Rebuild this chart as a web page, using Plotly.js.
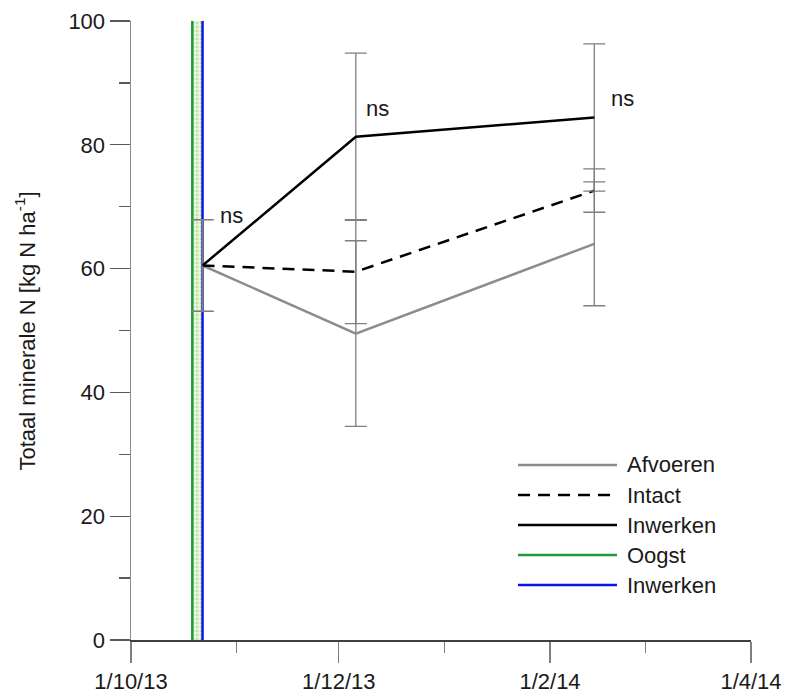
<!DOCTYPE html>
<html>
<head>
<meta charset="utf-8">
<script src="https://cdn.plot.ly/plotly-3.0.1.min.js"></script>
<style>
  html, body { margin: 0; padding: 0; background: #ffffff; }
  #chart { width: 785px; height: 697px; }
</style>
</head>
<body>
<div id="chart"></div>
<script>
// Sampling dates and mean total mineral N (kg N/ha) per treatment
const sampleDates = ['2013-10-22', '2013-12-06', '2014-02-14'];

const afvoeren    = [60.5, 49.5, 64.0];
const afvoerenErr = [7.4, 15.0, 10.0];

const intact      = [60.5, 59.5, 72.6];
const intactErr   = [7.4, 8.4, 3.5];

const inwerken    = [60.5, 81.3, 84.4];
const inwerkenErr = [7.4, 13.5, 11.9];

// Field events (harvest, incorporation)
const oogstDate    = '2013-10-19';
const inwerkenDate = '2013-10-22';
const eventSpan    = [0, 100];

// Significance labels per sampling date and the level they sit at
const sigLabels = ['ns', 'ns', 'ns'];
const sigLevels = [68.5, 85.8, 87.4];

const legendNames = ['Afvoeren', 'Intact', 'Inwerken', 'Oogst', 'Inwerken'];

const FONT = 'Liberation Sans, Arial, sans-serif';
const FS = 22;
const TXT = '#1a1a1a';
const ERR = { type: 'data', visible: true, color: '#7f7f7f', thickness: 1.3, width: 11 };

const traces = [
  // hatched band between harvest and incorporation
  {
    x: [oogstDate, inwerkenDate, inwerkenDate, oogstDate, oogstDate],
    y: [eventSpan[0], eventSpan[0], eventSpan[1], eventSpan[1], eventSpan[0]],
    mode: 'lines', fill: 'toself', line: { width: 0 },
    fillcolor: 'rgba(226,243,204,1)',
    fillpattern: { shape: '.', bgcolor: 'rgba(236,248,222,1)', fgcolor: '#c2e3a0', size: 4, solidity: 0.4 },
    hoverinfo: 'skip', showlegend: false
  },
  {
    x: [oogstDate, oogstDate], y: eventSpan, mode: 'lines',
    line: { color: '#1d9a3c', width: 2.5 }, name: legendNames[3], showlegend: false
  },
  {
    x: [inwerkenDate, inwerkenDate], y: eventSpan, mode: 'lines',
    line: { color: '#0a14f0', width: 2.5 }, name: legendNames[4], showlegend: false
  },
  {
    x: sampleDates, y: afvoeren, mode: 'lines', name: legendNames[0],
    line: { color: '#8c8c8c', width: 2.5 },
    error_y: Object.assign({ array: afvoerenErr }, ERR), showlegend: false
  },
  {
    x: sampleDates, y: intact, mode: 'lines', name: legendNames[1],
    line: { color: '#000000', width: 2.5, dash: '12px,8px' },
    error_y: Object.assign({ array: intactErr }, ERR), showlegend: false
  },
  {
    x: sampleDates, y: inwerken, mode: 'lines', name: legendNames[2],
    line: { color: '#000000', width: 2.5 },
    error_y: Object.assign({ array: inwerkenErr }, ERR), showlegend: false
  }
];

// significance annotations, just right of each error bar
const sigShift = [15, 8, 15];
const annotations = sigLabels.map((t, i) => ({
  x: sampleDates[i], y: sigLevels[i], xref: 'x', yref: 'y',
  text: t, showarrow: false, xanchor: 'left', yanchor: 'middle', xshift: sigShift[i],
  font: { family: FONT, size: FS, color: TXT }
}));

// y-axis title
annotations.push({
  x: -0.171, y: 0.5, xref: 'paper', yref: 'paper', textangle: -90,
  text: 'Totaal minerale N [kg N ha<sup>-1</sup>]', showarrow: false,
  xanchor: 'center', yanchor: 'middle',
  font: { family: FONT, size: FS, color: TXT }
});

// legend drawn as line samples plus labels in the lower right
const legendStyles = [
  { color: '#8c8c8c', dash: 'solid' },
  { color: '#000000', dash: '12px,8px' },
  { color: '#000000', dash: 'solid' },
  { color: '#1d9a3c', dash: 'solid' },
  { color: '#0a14f0', dash: 'solid' }
];
const shapes = [];
const plotL = 131, plotR = 751, plotT = 21, plotB = 640;
const px = v => (v - plotL) / (plotR - plotL);
const py = v => (plotB - v) / (plotB - plotT);
legendNames.forEach((name, i) => {
  const rowY = 465 + i * 30;
  shapes.push({
    type: 'line', xref: 'paper', yref: 'paper',
    x0: px(518), x1: px(617), y0: py(rowY), y1: py(rowY),
    line: { color: legendStyles[i].color, width: 2.5, dash: legendStyles[i].dash }
  });
  annotations.push({
    x: px(625), y: py(rowY), xref: 'paper', yref: 'paper', text: name,
    showarrow: false, xanchor: 'left', yanchor: 'middle',
    font: { family: FONT, size: FS, color: TXT }
  });
});

const layout = {
  width: 785, height: 697,
  margin: { l: plotL, r: 785 - plotR, t: plotT, b: 697 - plotB },
  paper_bgcolor: '#ffffff', plot_bgcolor: '#ffffff',
  font: { family: FONT, size: FS, color: TXT },
  showlegend: false,
  xaxis: {
    type: 'date', range: ['2013-10-01', '2014-04-01'],
    tick0: '2013-10-01', dtick: 'M2', tickformat: '%-d/%-m/%y',
    ticks: 'outside', ticklen: 21, tickwidth: 1.3, tickcolor: '#7f7f7f',
    showline: true, linecolor: '#404040', linewidth: 1.5,
    showgrid: false, zeroline: false,
    tickfont: { family: FONT, size: FS, color: TXT },
    minor: { dtick: 'M1', ticks: 'outside', ticklen: 11, tickwidth: 1.3, tickcolor: '#7f7f7f', showgrid: false }
  },
  yaxis: {
    range: [0, 100], dtick: 20,
    ticks: 'outside', ticklen: 20, tickwidth: 1.3, tickcolor: '#5a5a5a',
    showline: true, linecolor: '#8c8c8c', linewidth: 1.5,
    showgrid: false, zeroline: false,
    tickfont: { family: FONT, size: FS, color: TXT },
    minor: { dtick: 10, ticks: 'outside', ticklen: 11, tickwidth: 1.3, tickcolor: '#5a5a5a', showgrid: false }
  },
  annotations: annotations,
  shapes: shapes
};

Plotly.newPlot('chart', traces, layout, { displayModeBar: false, staticPlot: true });
</script>
</body>
</html>
